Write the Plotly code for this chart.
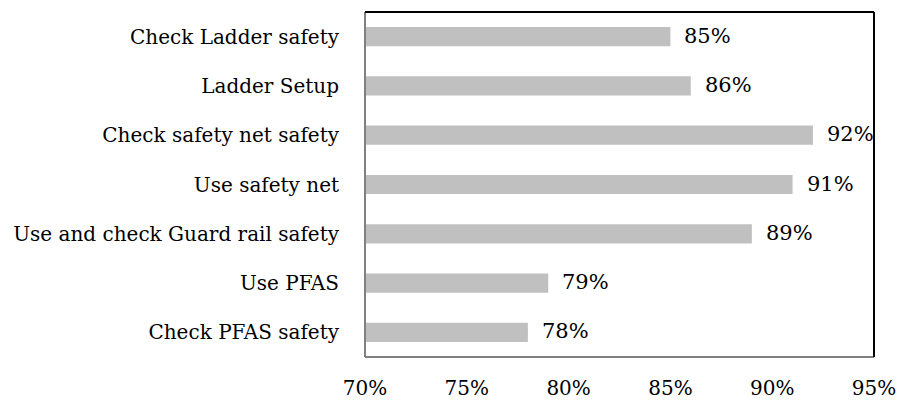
import plotly.graph_objects as go

categories = ["Check Ladder safety", "Ladder Setup", "Check safety net safety",
              "Use safety net", "Use and check Guard rail safety", "Use PFAS",
              "Check PFAS safety"]
values = [85, 86, 92, 91, 89, 79, 78]
tick_vals = [70, 75, 80, 85, 90, 95]
tick_text = ["70%", "75%", "80%", "85%", "90%", "95%"]

FONT = "DejaVu Serif"

fig = go.Figure()
fig.add_trace(go.Bar(
    y=categories, x=values, orientation="h",
    base=0,
    marker=dict(color="#c0c0c0", line=dict(width=0)),
    width=0.39,
    hoverinfo="skip",
))

for c, v in zip(categories, values):
    fig.add_annotation(x=v, y=c, text=f"{v}%", showarrow=False,
                       xanchor="left", xshift=12, yshift=1,
                       font=dict(family=FONT, size=21, color="#000"))

fig.update_layout(
    width=898, height=403,
    margin=dict(l=365, r=24, t=12, b=46, autoexpand=False),
    paper_bgcolor="white", plot_bgcolor="white",
    showlegend=False,
    font=dict(family=FONT, size=20, color="#000"),
    xaxis=dict(range=[70, 95], tickvals=tick_vals, ticktext=tick_text,
               showgrid=False, zeroline=False, showline=False, automargin=False,
               ticks="", ticklabelstandoff=17, fixedrange=True),
    yaxis=dict(categoryorder="array", categoryarray=categories,
               autorange="reversed", showgrid=False, zeroline=False,
               automargin=False,
               showline=False, ticks="", ticklabelstandoff=25),
    shapes=[
        dict(type="line", xref="paper", yref="paper", x0=0, x1=0, y0=0, y1=1,
             line=dict(color="#808080", width=2)),
        dict(type="line", xref="paper", yref="paper", x0=0, x1=1, y0=0, y1=0,
             line=dict(color="#808080", width=2)),
        dict(type="line", xref="paper", yref="paper", x0=0, x1=1, y0=1, y1=1,
             line=dict(color="#000000", width=2)),
        dict(type="line", xref="paper", yref="paper", x0=1, x1=1, y0=0, y1=1,
             line=dict(color="#000000", width=2)),
    ],
)

fig.write_html("out.html")
